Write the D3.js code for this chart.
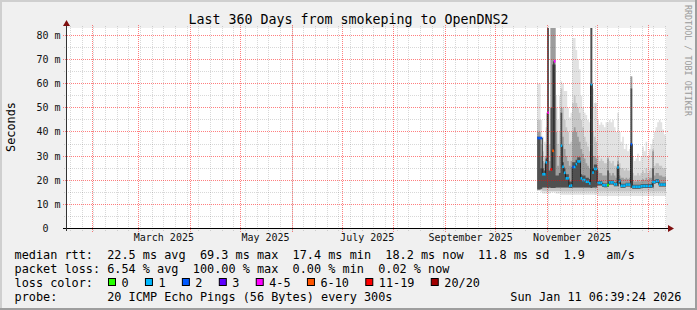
<!DOCTYPE html>
<html><head><meta charset="utf-8">
<script src="https://cdn.jsdelivr.net/npm/d3@7"></script>
<style>
html,body{margin:0;padding:0;background:#f0f0f0;}
svg{display:block;}
text{font-family:"DejaVu Sans Mono",monospace;white-space:pre;}
</style></head><body>
<svg id="c" width="697" height="310"></svg>
<script>
// ---------- data ----------
const title = "Last 360 Days from smokeping to OpenDNS2";
const endTime = "2026-01-11T06:39:24Z";
const spanDays = 360;
const firstDay = "2025-10-26";
const yMax = 82.9;
const yTicks = [0,10,20,30,40,50,60,70,80];
const yTickLabels = ["0  ","10 m","20 m","30 m","40 m","50 m","60 m","70 m","80 m"];
const yMinorTicks = [5,15,25,35,45,55,65,75];
const xLabelDates = ["2025-03-16","2025-05-16","2025-07-16","2025-09-16","2025-11-16"];
const xLabels = ["March 2025","May 2025","July 2025","September 2025","November 2025"];

// daily median RTT (ms) from firstDay
const median = [37.5,37.5,37.5,22.5,22.5,27.4,48.0,null,24.5,32.2,
 69.3,null,null,null,34.3,25.6,23.1,20.8,20.8,17.6,
 17.8,25.5,25.5,26.7,27.8,27.8,20.8,20.1,20.1,19.4,
 19.4,18.7,59.8,23.2,24.7,24.7,18.9,18.9,18.9,18.0,
 17.9,17.9,18.0,19.1,19.1,19.1,18.3,18.3,25.3,19.7,
 17.7,17.7,17.7,18.2,18.2,18.2,34.9,17.3,17.3,17.3,
 17.3,17.3,17.5,17.6,17.6,17.6,17.6,17.6,17.6,19.3,
 19.3,19.7,19.7,18.2,18.2,18.2,18.2,18.2];
// lost pings out of 20
const loss = [2,2,2,1,1,1,5,null,15,8,
 5,null,null,null,1,1,1,1,1,1,
 1,2,1,1,1,1,1,1,1,1,
 1,1,1,1,1,1,1,1,1,1,
 1,1,0,1,1,1,1,1,1,1,
 1,1,1,1,1,1,2,1,1,1,
 1,1,1,1,1,1,1,1,1,1,
 1,1,1,1,1,1,1,1];
// smoke band edges (ms)
const smokeLo1 = [15.5,15.5,15,14.5,14.5,14.5,14.5,14.5,15,15,
 15,14.5,14.5,14.5,14,14,14,14,14,14,
 14,14,14,14,14,14,14,14,14,14,
 14,14,14,14,14,14,13.5,13.5,13.5,13.5,
 13.5,13.5,13.5,13.5,13.5,13.5,13.5,13.5,13.5,13.5,
 13.5,13.5,13.5,13.5,13.5,13.5,13.5,13.5,13.5,13.5,
 13.5,13.5,13.5,13.5,13.5,13.5,13.5,13.5,13.5,13.5,
 13.5,13.5,13.5,13.5,13.5,13.5,13.5,13.5];
const smokeLo2 = [16,16,16,15.5,15.5,15.5,15.5,15.5,15.5,15.5,
 15.5,15.5,15.5,15.5,15.3,15.3,15.3,15.3,15.3,15.3,
 15.3,15.3,15.3,15.3,15.3,15.3,15.3,15.3,15.3,15.3,
 15.3,15.3,15.3,15.3,15.3,15.3,15.3,15.3,15.3,15.3,
 15.3,15.3,15.3,15.3,15.3,15.3,15.3,15.3,15.3,15.3,
 15.3,15.3,15.3,15.3,15.3,15.3,15.3,15.3,15.3,15.3,
 15.3,15.3,15.3,15.3,15.3,15.3,15.3,15.3,15.3,15.3,
 15.3,15.3,15.3,15.3,15.3,15.3,15.3,15.3];
const smokeLo3 = [16.2,16.2,16.5,17,17,17,16.8,17,16.8,16.8,
 16.8,17,17,17,17,17,17,17,17,16.8,
 16.8,17,17,17,17,17,17,17,17,17,
 17,17,16.8,17,17,17,17.8,17.8,17.8,17.2,
 17.1,17.1,17.2,18.2,18.2,18.2,17.5,17.5,17.5,18.6,
 16.9,16.9,16.9,17.4,17.4,17.4,16.8,16.5,16.5,16.5,
 16.5,16.5,16.7,16.8,16.8,16.8,16.8,16.8,16.8,17,
 18.5,18.9,18.9,17.4,17.4,17.4,17.4,17.4];
const smokeTop1 = [60,60,45,38,36,42,90,50,90,90,
 90,55,45,55,61,60,57,57,50,46,
 48,79,79,74,70,66,55,50,48,47,
 45,44,90,58,52,52,45,43,44,43,
 42,44,44,45,44,45,42,40,48,40,
 36,38,33,35,32,33,63,30,28,29,
 31,28,30,34,32,36,30,33,35,37,
 40,42,44,45,44,41,39,38];
const smokeTop2 = [45,45,35,32,30,35,90,35,90,90,
 90,50,35,40,58,50,45,42,40,35,
 36,52,55,52,50,48,45,42,38,36,
 34,32,90,40,38,36,30,28,29,28,
 27,27,30,28,27,28,26,26,30,27,
 25,25,24,25,24,24,63,23,22,22,
 23,22,23,24,23,25,23,24,25,33,
 26,27,27,26,26,25,25,25];
const smokeTop3 = [40,40,30,28,27,30,90,28,90,90,
 90,40,26,30,50,38,33,30,28,26,
 28,40,42,40,38,36,33,31,29,27,
 26,25,90,30,30,29,24,23,23,22,
 22,22,29,23,22,23,22,21,28,22,
 21,21,20.5,21,20.5,21,63,20,19.5,19.5,
 20,19.5,20,20.5,20,21,20,21,21,32,
 22,23,23,22,22,21.5,21.5,21.5];
const smokeTop4 = [38,38,25,25,24,29,90,24,50,68,
 68,22,22,23,48,27.5,25,22.5,22.5,19.5,
 19.5,27.5,27.5,28.5,29.5,29.5,22.5,22,22,21,
 21,20.5,90,25,26.5,26.5,19.7,19.7,19.7,18.8,
 18.7,18.7,24,19.9,19.9,19.9,19.1,19.1,26.5,20.5,
 18.5,18.5,18.5,19.0,19.0,19.0,58,18.1,18.1,18.1,
 18.1,18.1,18.3,18.4,18.4,18.4,18.4,18.4,18.4,25,
 20.1,20.5,20.5,19.0,19.0,19.0,19.0,19.0];

const lossBinLabels = ["0","1","2","3","4-5","6-10","11-19","20/20"];
const lossBinUpper = [0,1,2,3,5,10,19,20];
const lossColors = ["#26ff00","#00b8ff","#0059ff","#5e00ff","#ff00ff","#ff5500","#ff0000","#a10000"];
const smokeColors = ["#e2e2e2","#c6c6c6","#9c9c9c","#505050"];

const legendLine1 = "median rtt:  22.5 ms avg  69.3 ms max  17.4 ms min  18.2 ms now  11.8 ms sd  1.9   am/s";
const legendLine2 = "packet loss: 6.54 % avg  100.00 % max  0.00 % min  0.02 % now";
const legendLine3 = "loss color:";
const legendLine4 = "probe:       20 ICMP Echo Pings (56 Bytes) every 300s";
const legendDate = "Sun Jan 11 06:39:24 2026";
const yAxisTitle = "Seconds";
const watermark = "RRDTOOL / TOBI OETIKER";

// ---------- drawing ----------
const W = 697, H = 310;
const X0 = 66, X1 = 666, PY0 = 228.5, PY1 = 28.5;
const svg = d3.select("#c");

svg.append("rect").attr("width", W).attr("height", H).attr("fill", "#f0f0f0");
svg.append("rect").attr("x",0).attr("y",0).attr("width",W).attr("height",2).attr("fill","#cfcfcf");
svg.append("rect").attr("x",0).attr("y",0).attr("width",2).attr("height",H).attr("fill","#cfcfcf");
svg.append("rect").attr("x",0).attr("y",H-2).attr("width",W).attr("height",2).attr("fill","#9e9e9e");
svg.append("rect").attr("x",W-2).attr("y",0).attr("width",2).attr("height",H).attr("fill","#9e9e9e");

const end = new Date(endTime);
const start = d3.utcDay.offset(end, -spanDays);
const x = d3.scaleUtc().domain([start, end]).range([X0, X1]);
const y = d3.scaleLinear().domain([0, yMax]).range([PY0, PY1]);
const px = v => Math.round(v - 0.5) + 0.5;

svg.append("rect").attr("x", X0).attr("y", 28).attr("width", X1 - X0).attr("height", 200).attr("fill", "#ffffff");

const defs = svg.append("defs");
defs.append("clipPath").attr("id","plot").append("rect")
  .attr("x", X0).attr("y", 28).attr("width", X1 - X0).attr("height", 200.5);

const day0 = new Date(firstDay + "T00:00:00Z");
const pts = median.map((m, i) => ({
  t: d3.utcDay.offset(day0, i), m, l: loss[i],
  lo1: smokeLo1[i], lo2: smokeLo2[i], lo3: smokeLo3[i],
  t1: smokeTop1[i], t2: smokeTop2[i], t3: smokeTop3[i], t4: smokeTop4[i]
}));
const ext = pts.concat([Object.assign({}, pts[pts.length-1], {t: d3.utcDay.offset(day0, pts.length)})]);

const gData = svg.append("g").attr("clip-path", "url(#plot)");
const bands = [["lo1","t1"],["lo2","t2"],["lo3","t3"],["lo3","t4"]];
bands.forEach((b, k) => {
  gData.append("path").datum(ext)
    .attr("fill", smokeColors[k])
    .attr("d", d3.area().curve(d3.curveStepAfter)
      .x(d => x(d.t)).y0(d => y(d[b[0]])).y1(d => y(d[b[1]])));
});

gData.append("path").datum(ext)
  .attr("fill", "none").attr("stroke", "#202020").attr("stroke-width", 1)
  .attr("d", d3.line().defined(d => d.m != null).curve(d3.curveStepAfter)
    .x(d => x(d.t)).y(d => y(d.m)));

function lossBin(l) { return lossBinUpper.findIndex(u => l <= u); }
gData.selectAll("rect.med").data(pts.filter(d => d.m != null)).join("rect")
  .attr("class", "med")
  .attr("x", d => x(d.t))
  .attr("width", d => x(d3.utcDay.offset(d.t, 1)) - x(d.t))
  .attr("y", d => y(d.m) - 1.3)
  .attr("height", 2.6)
  .attr("fill", d => lossColors[lossBin(d.l)]);

// grid (drawn over data, like rrdtool)
const gGrid = svg.append("g");
const minorCol = "rgba(90,90,90,0.24)";
const majorCol = "rgba(255,0,0,0.5)";
function dotted(x1, y1, x2, y2, col) {
  gGrid.append("line").attr("x1", x1).attr("y1", y1).attr("x2", x2).attr("y2", y2)
    .attr("stroke", col).attr("stroke-width", 1).attr("stroke-dasharray", "1 1");
}
yMinorTicks.forEach(v => dotted(X0 - 2, px(y(v)), X1 + 2, px(y(v)), minorCol));
d3.utcSunday.range(start, end).forEach(t => dotted(px(x(t)), 26, px(x(t)), 231, minorCol));
yTicks.filter(v => v > 0).forEach(v => dotted(X0 - 3, px(y(v)), X1 + 3, px(y(v)), majorCol));
d3.utcMonth.range(start, end).forEach(t => dotted(px(x(t)), 25, px(x(t)), 232, majorCol));

// axes
const axisCol = "#333333", arrowCol = "#7f1010";
svg.append("line").attr("x1", 63).attr("x2", 669).attr("y1", 228.5).attr("y2", 228.5)
  .attr("stroke", "#000");
svg.append("line").attr("x1", 66.5).attr("x2", 66.5).attr("y1", 231).attr("y2", 25)
  .attr("stroke", axisCol);
svg.append("path").attr("d", "M668,225 L674,228.5 L668,232 Z").attr("fill", arrowCol);
svg.append("path").attr("d", "M63,26 L66.5,20 L70,26 Z").attr("fill", arrowCol);

// y tick labels
svg.selectAll("text.yl").data(yTicks).join("text").attr("class","yl")
  .attr("x", 60.5).attr("y", v => px(y(v)) + 3.3)
  .attr("text-anchor", "end").attr("font-size", "10px").attr("fill", "#111")
  .text((v, i) => yTickLabels[i]);

// x labels
svg.selectAll("text.xl").data(xLabelDates).join("text").attr("class","xl")
  .attr("x", d => x(new Date(d + "T00:00:00Z"))).attr("y", 241)
  .attr("text-anchor", "middle").attr("font-size", "10px").attr("fill", "#111")
  .text((d, i) => xLabels[i]);

// title
svg.append("text").attr("x", 348.5).attr("y", 24).attr("text-anchor", "middle")
  .attr("font-size", "13.3px").attr("fill", "#000").text(title);

// vertical labels
svg.append("text").attr("transform", "translate(14.5,127) rotate(-90)")
  .attr("text-anchor", "middle").attr("font-size", "11.85px").attr("fill", "#000").text(yAxisTitle);
svg.append("text").attr("transform", "translate(685,5) rotate(90)")
  .attr("font-size", "8.4px").attr("fill", "#9a9a9a").text(watermark);

// legend
const fs = 11.85, cw = fs * 0.6021, lx = 14.5;
const lg = svg.append("g").attr("font-size", fs + "px").attr("fill", "#000");
lg.append("text").attr("x", lx).attr("y", 258.5).text(legendLine1);
lg.append("text").attr("x", lx).attr("y", 272.5).text(legendLine2);
lg.append("text").attr("x", lx).attr("y", 286.5).text(legendLine3);
lg.append("text").attr("x", lx).attr("y", 300.5).text(legendLine4);
lg.append("text").attr("x", 681.5).attr("y", 300.5).attr("text-anchor", "end").text(legendDate);
let bx = 108;
lossBinLabels.forEach((lab, i) => {
  svg.append("rect").attr("x", bx + 0.5).attr("y", 278.5).attr("width", 7).attr("height", 7)
    .attr("fill", lossColors[i]).attr("stroke", "#000").attr("stroke-width", 1);
  const tx = bx + 13.5;
  lg.append("text").attr("x", tx).attr("y", 286.5).text(lab);
  bx = tx + lab.length * cw + 16.3;
});
</script>
</body></html>
